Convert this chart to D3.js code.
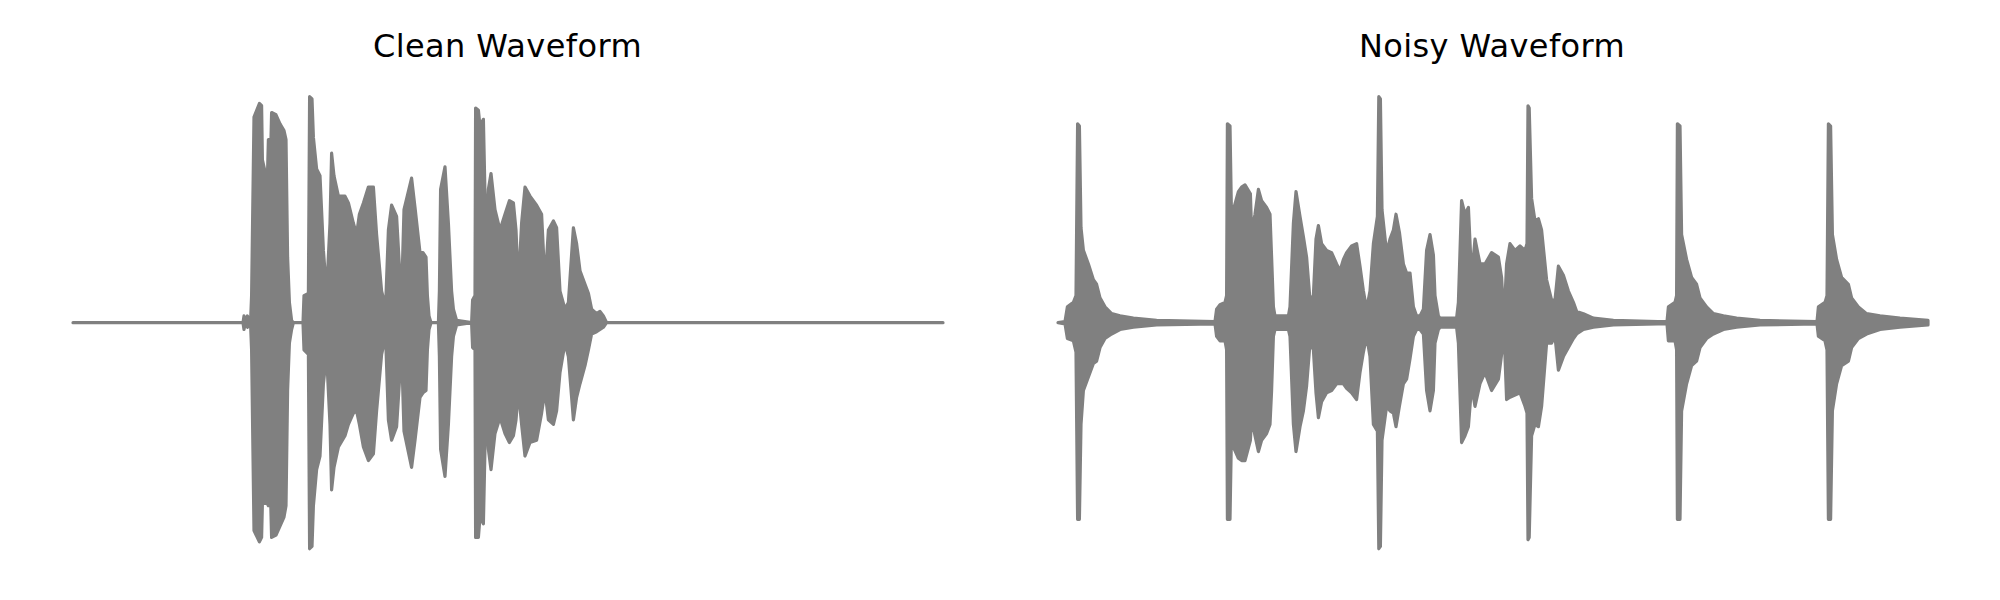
<!DOCTYPE html>
<html>
<head>
<meta charset="utf-8">
<script src="https://cdn.jsdelivr.net/npm/d3@7"></script>
<style>
  html, body { margin: 0; padding: 0; background: #ffffff; }
  svg { display: block; }
</style>
</head>
<body>
<svg id="chart" width="2000" height="600"></svg>
<script>
// ---------------- DATA ----------------
// Panel titles
const titles = ["Clean Waveform", "Noisy Waveform"];
// Duration of each recording (seconds) and amplitude limit of the plot
const duration = 4.35;
const amplitudeLimit = 1.1;

// Clean waveform envelope: [time (s), max amplitude, min amplitude]
const cleanEnvelope = [
  [0, 0, 0], [0.85, 0, 0], [0.855, 0.03, -0.03], [0.862, 0, 0], [0.872, 0.03, -0.02],
  [0.884, 0.01, -0.01], [0.888, 0.01, -0.01], [0.893, 0.12, -0.12], [0.905, 0.91, -0.92],
  [0.932, 0.97, -0.97], [0.943, 0.96, -0.95], [0.947, 0.72, -0.80], [0.965, 0.65, -0.80],
  [0.972, 0.64, -0.80], [0.977, 0.81, -0.81], [0.982, 0.81, -0.81], [0.987, 0.70, -0.74],
  [0.993, 0.93, -0.95],
  [1.015, 0.92, -0.94], [1.035, 0.88, -0.90], [1.055, 0.85, -0.86], [1.065, 0.81, -0.81],
  [1.073, 0.29, -0.30], [1.082, 0.09, -0.09], [1.093, 0.01, -0.03], [1.102, 0, 0],
  [1.15, 0, 0], [1.155, 0.12, -0.12], [1.177, 0.13, -0.14], [1.183, 1.00, -1.00],
  [1.195, 0.99, -0.99], [1.202, 0.82, -0.81], [1.218, 0.68, -0.65], [1.235, 0.65, -0.59],
  [1.252, 0.32, -0.27], [1.268, 0.13, -0.14], [1.285, 0.44, -0.45], [1.293, 0.75, -0.74],
  [1.305, 0.65, -0.64], [1.327, 0.56, -0.55], [1.36, 0.56, -0.50], [1.377, 0.53, -0.45],
  [1.402, 0.44, -0.40], [1.418, 0.39, -0.39], [1.432, 0.48, -0.45], [1.452, 0.53, -0.55],
  [1.477, 0.60, -0.61], [1.502, 0.60, -0.58], [1.518, 0.39, -0.39], [1.543, 0.14, -0.14],
  [1.563, 0.07, -0.06], [1.577, 0.41, -0.43], [1.593, 0.52, -0.52], [1.618, 0.47, -0.46],
  [1.635, 0.20, -0.22], [1.643, 0.12, -0.12], [1.655, 0.50, -0.48], [1.693, 0.64, -0.64],
  [1.71, 0.51, -0.52], [1.735, 0.31, -0.33], [1.75, 0.31, -0.31], [1.765, 0.29, -0.30],
  [1.772, 0.12, -0.12], [1.78, 0.03, -0.03], [1.79, 0, 0], [1.827, 0, 0],
  [1.832, 0.14, -0.15], [1.838, 0.59, -0.56], [1.86, 0.69, -0.68], [1.877, 0.44, -0.45],
  [1.893, 0.14, -0.15], [1.902, 0.06, -0.06], [1.918, 0.01, -0.01], [1.993, 0, 0],
  [1.998, 0.10, -0.11], [2.01, 0.12, -0.12], [2.013, 0.95, -0.95], [2.027, 0.94, -0.95],
  [2.035, 0.87, -0.86], [2.052, 0.90, -0.89], [2.065, 0.35, -0.34], [2.077, 0.59, -0.56],
  [2.09, 0.66, -0.65], [2.11, 0.50, -0.49], [2.135, 0.41, -0.42], [2.16, 0.48, -0.49],
  [2.182, 0.54, -0.53], [2.202, 0.53, -0.50], [2.215, 0.41, -0.43], [2.227, 0.16, -0.30],
  [2.243, 0.44, -0.45], [2.26, 0.60, -0.59], [2.285, 0.56, -0.53], [2.318, 0.52, -0.52],
  [2.343, 0.48, -0.40], [2.36, 0.17, -0.30], [2.377, 0.41, -0.43], [2.402, 0.45, -0.45],
  [2.418, 0.42, -0.39], [2.435, 0.14, -0.22], [2.46, 0.06, -0.09], [2.477, 0.09, -0.15],
  [2.502, 0.42, -0.43], [2.518, 0.35, -0.33], [2.535, 0.23, -0.27], [2.56, 0.17, -0.19],
  [2.577, 0.13, -0.12], [2.593, 0.06, -0.05], [2.618, 0.04, -0.04], [2.635, 0.05, -0.03],
  [2.652, 0.03, -0.02], [2.668, 0, 0], [4.35, 0, 0]
];

// Noisy waveform envelope: [time (s), max amplitude, min amplitude]
const noisyEnvelope = [
  [0, 0, 0], [0.035, 0.005, -0.005], [0.047, 0.07, -0.07], [0.077, 0.09, -0.08],
  [0.09, 0.12, -0.13], [0.098, 0.88, -0.87], [0.107, 0.87, -0.87], [0.115, 0.42, -0.45],
  [0.127, 0.32, -0.30], [0.152, 0.26, -0.24], [0.177, 0.19, -0.18], [0.193, 0.17, -0.17],
  [0.21, 0.11, -0.11], [0.235, 0.07, -0.07], [0.268, 0.04, -0.05], [0.31, 0.03, -0.03],
  [0.377, 0.02, -0.02], [0.493, 0.01, -0.01], [0.785, 0.005, -0.005], [0.793, 0.06, -0.06],
  [0.81, 0.08, -0.08], [0.835, 0.09, -0.08], [0.843, 0.12, -0.12], [0.847, 0.88, -0.87],
  [0.86, 0.87, -0.87], [0.868, 0.44, -0.45], [0.877, 0.50, -0.55], [0.902, 0.58, -0.60],
  [0.918, 0.60, -0.61], [0.935, 0.61, -0.61], [0.962, 0.57, -0.52], [0.968, 0.40, -0.42],
  [0.985, 0.48, -0.50], [1.002, 0.59, -0.57], [1.018, 0.54, -0.52], [1.043, 0.51, -0.49],
  [1.06, 0.48, -0.45], [1.068, 0.29, -0.30], [1.077, 0.07, -0.06], [1.085, 0.03, -0.03],
  [1.152, 0.03, -0.03], [1.16, 0.07, -0.06], [1.177, 0.44, -0.45], [1.19, 0.58, -0.57],
  [1.21, 0.47, -0.46], [1.227, 0.38, -0.39], [1.243, 0.29, -0.28], [1.26, 0.10, -0.09],
  [1.277, 0.12, -0.12], [1.29, 0.37, -0.31], [1.302, 0.43, -0.42], [1.318, 0.35, -0.35],
  [1.343, 0.32, -0.31], [1.368, 0.31, -0.30], [1.393, 0.26, -0.27], [1.41, 0.23, -0.27],
  [1.427, 0.28, -0.27], [1.443, 0.31, -0.29], [1.468, 0.34, -0.31], [1.493, 0.35, -0.34],
  [1.51, 0.25, -0.22], [1.527, 0.14, -0.13], [1.543, 0.06, -0.06], [1.56, 0.14, -0.15],
  [1.577, 0.35, -0.45], [1.597, 0.47, -0.48], [1.604, 1.00, -1.00], [1.612, 0.99, -0.99],
  [1.62, 0.50, -0.52], [1.643, 0.31, -0.37], [1.66, 0.37, -0.39], [1.677, 0.41, -0.40],
  [1.69, 0.48, -0.46], [1.707, 0.40, -0.37], [1.727, 0.26, -0.27], [1.743, 0.22, -0.25],
  [1.76, 0.22, -0.16], [1.777, 0.07, -0.06], [1.793, 0.03, -0.03], [1.81, 0.03, -0.03],
  [1.827, 0.06, -0.05], [1.843, 0.32, -0.30], [1.86, 0.39, -0.39], [1.877, 0.30, -0.30],
  [1.885, 0.12, -0.09], [1.902, 0.03, -0.03], [1.91, 0.02, -0.02], [1.993, 0.02, -0.02],
  [2.002, 0.09, -0.09], [2.018, 0.54, -0.53], [2.035, 0.48, -0.50], [2.052, 0.51, -0.46],
  [2.068, 0.20, -0.28], [2.085, 0.37, -0.37], [2.11, 0.26, -0.27], [2.135, 0.26, -0.22],
  [2.168, 0.31, -0.30], [2.202, 0.29, -0.25], [2.218, 0.20, -0.14], [2.23, 0.01, -0.03],
  [2.243, 0.26, -0.34], [2.26, 0.35, -0.33], [2.285, 0.32, -0.32], [2.31, 0.34, -0.31],
  [2.335, 0.32, -0.37], [2.345, 0.35, -0.40], [2.35, 0.96, -0.96], [2.356, 0.95, -0.95],
  [2.368, 0.55, -0.50], [2.385, 0.45, -0.45], [2.402, 0.46, -0.46], [2.418, 0.41, -0.37],
  [2.443, 0.19, -0.09], [2.468, 0.10, -0.09], [2.485, 0.10, -0.06], [2.502, 0.25, -0.21],
  [2.527, 0.21, -0.15], [2.552, 0.14, -0.11], [2.577, 0.09, -0.07], [2.593, 0.05, -0.05],
  [2.627, 0.04, -0.03], [2.677, 0.02, -0.02], [2.777, 0.01, -0.01], [3.0, 0.005, -0.005],
  [3.045, 0.005, -0.005], [3.052, 0.07, -0.08], [3.085, 0.09, -0.08], [3.093, 0.12, -0.12],
  [3.097, 0.88, -0.87], [3.11, 0.87, -0.87], [3.118, 0.39, -0.39], [3.143, 0.28, -0.27],
  [3.168, 0.20, -0.19], [3.193, 0.17, -0.17], [3.21, 0.11, -0.11], [3.243, 0.07, -0.07],
  [3.277, 0.04, -0.05], [3.327, 0.03, -0.03], [3.393, 0.02, -0.02], [3.51, 0.01, -0.01],
  [3.795, 0.005, -0.005], [3.802, 0.07, -0.06], [3.835, 0.09, -0.08], [3.845, 0.12, -0.12],
  [3.852, 0.88, -0.87], [3.863, 0.87, -0.87], [3.872, 0.39, -0.39], [3.893, 0.28, -0.27],
  [3.918, 0.20, -0.19], [3.952, 0.17, -0.17], [3.968, 0.11, -0.11], [4.002, 0.07, -0.07],
  [4.043, 0.04, -0.05], [4.11, 0.03, -0.03], [4.21, 0.02, -0.02], [4.35, 0.01, -0.01]
];

// ---------------- LAYOUT ----------------
const W = 2000, H = 600;
const lineColor = "#808080";
const panelLayout = [
  { left: 73, right: 943, titleX: 507.5 },
  { left: 1058, right: 1928, titleX: 1492 }
];
const plotTop = 74.1, plotBottom = 571.3;
const titleBaseline = 57;

const svg = d3.select("#chart");
svg.append("rect").attr("width", W).attr("height", H).attr("fill", "#ffffff");

const series = [cleanEnvelope, noisyEnvelope];

series.forEach((env, i) => {
  const lay = panelLayout[i];
  const x = d3.scaleLinear().domain([0, duration]).range([lay.left, lay.right]);
  const y = d3.scaleLinear().domain([-amplitudeLimit, amplitudeLimit]).range([plotBottom, plotTop]);

  const rows = env.map(d => ({ t: d[0], hi: d[1], lo: d[2] }));
  const area = d3.area()
    .x(d => x(d.t))
    .y0(d => y(d.lo))
    .y1(d => y(d.hi))
    .curve(d3.curveLinear);

  const g = svg.append("g").attr("class", "panel");
  g.append("path")
    .datum(rows)
    .attr("d", area)
    .attr("fill", lineColor)
    .attr("stroke", lineColor)
    .attr("stroke-width", 3.2)
    .attr("stroke-linejoin", "round")
    .attr("stroke-linecap", "round");

  g.append("text")
    .attr("x", lay.titleX)
    .attr("y", titleBaseline)
    .attr("text-anchor", "middle")
    .attr("font-family", "'DejaVu Sans', sans-serif")
    .attr("font-size", "32px")
    .attr("letter-spacing", "0.4px")
    .attr("fill", "#000000")
    .text(titles[i]);
});
</script>
</body>
</html>
